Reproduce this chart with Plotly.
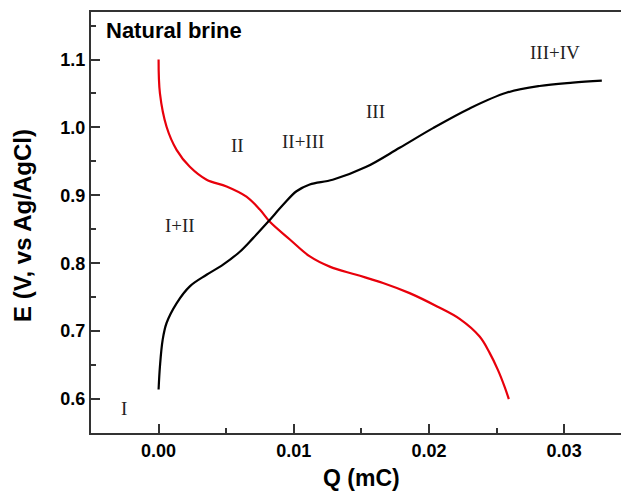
import plotly.graph_objects as go

# Red curve (decreasing)
red_q = [0.0, 0.0001, 0.00059, 0.00133, 0.00231, 0.00355, 0.00503, 0.00650, 0.00749,
         0.00823, 0.00971, 0.01119, 0.01266, 0.01463, 0.01660, 0.01857, 0.02064,
         0.02227, 0.02375, 0.02449, 0.02510, 0.02560, 0.02591]
red_e = [1.100, 1.050, 1.001, 0.967, 0.942, 0.923, 0.913, 0.898, 0.879,
         0.861, 0.835, 0.810, 0.795, 0.783, 0.771, 0.756, 0.736,
         0.718, 0.692, 0.668, 0.643, 0.618, 0.600]

# Black curve (increasing)
black_q = [0.0, 0.0001, 0.0003, 0.00059, 0.00133, 0.00231, 0.00355, 0.00477, 0.00601,
           0.00699, 0.00810, 0.00921, 0.01020, 0.01118, 0.01288, 0.01537, 0.01783,
           0.02030, 0.02301, 0.02572, 0.02818, 0.03064, 0.03279]
black_e = [0.614, 0.648, 0.687, 0.712, 0.741, 0.766, 0.783, 0.798, 0.817,
           0.837, 0.861, 0.886, 0.906, 0.916, 0.923, 0.942, 0.970,
           0.999, 1.028, 1.051, 1.061, 1.066, 1.069]

# Region labels
label_text = ["I", "I+II", "II", "II+III", "III", "III+IV"]
label_q = [-0.00256, 0.00157, 0.00586, 0.01067, 0.01604, 0.02929]
label_e = [0.586, 0.855, 0.973, 0.980, 1.023, 1.110]

x_ticks = [0.0, 0.01, 0.02, 0.03]
x_ticktext = ["0.00", "0.01", "0.02", "0.03"]
y_ticks = [0.6, 0.7, 0.8, 0.9, 1.0, 1.1]
y_ticktext = ["0.6", "0.7", "0.8", "0.9", "1.0", "1.1"]

fig = go.Figure()
fig.add_trace(go.Scatter(x=red_q, y=red_e, mode="lines",
                         line=dict(color="#e8000b", width=2.2, shape="spline", smoothing=1.0),
                         showlegend=False, hoverinfo="skip"))
fig.add_trace(go.Scatter(x=black_q, y=black_e, mode="lines",
                         line=dict(color="#000000", width=2.2, shape="spline", smoothing=1.0),
                         showlegend=False, hoverinfo="skip"))

for t, q, e in zip(label_text, label_q, label_e):
    fig.add_annotation(x=q, y=e, xref="x", yref="y", text=t, showarrow=False,
                       xanchor="center", yanchor="middle",
                       font=dict(family="Liberation Serif", size=19, color="#222222"))

fig.add_annotation(x=-0.00404, y=1.1423, xref="x", yref="y", text="<b>Natural brine</b>",
                   showarrow=False, xanchor="left", yanchor="middle",
                   font=dict(family="Liberation Sans", size=22, color="#000000"))

# Axis titles as paper annotations
fig.add_annotation(x=-0.1283, y=0.494, xref="paper", yref="paper",
                   text="<b>E (V, vs Ag/AgCl)</b>", textangle=-90, showarrow=False,
                   xanchor="center", yanchor="middle",
                   font=dict(family="Liberation Sans", size=24, color="#000000"))
fig.add_annotation(x=0.502, y=-0.1069, xref="paper", yref="paper",
                   text="<b>Q (mC)</b>", showarrow=False,
                   xanchor="center", yanchor="middle",
                   font=dict(family="Liberation Sans", size=23, color="#000000"))

axis_color = "#333333"
# page body has an 8px default margin, so the figure is sized to fit the window
fig.update_layout(
    width=621, height=489,
    margin=dict(l=83, r=0, t=4, b=64),
    paper_bgcolor="white", plot_bgcolor="white",
    font=dict(family="Liberation Sans", color="#000000"),
    xaxis=dict(
        range=[-0.005, 0.0348], showgrid=False, zeroline=False, automargin=False,
        showline=True, linecolor=axis_color, linewidth=2, mirror=True,
        ticks="inside", ticklen=9, tickwidth=2, tickcolor=axis_color,
        tickvals=x_ticks, ticktext=x_ticktext,
        tickfont=dict(family="Liberation Sans", size=18, color="#000000", weight="bold"),
        minor=dict(tick0=0, dtick=0.005, ticks="inside", ticklen=5, tickwidth=2, tickcolor=axis_color),
    ),
    yaxis=dict(
        range=[0.55, 1.17], showgrid=False, zeroline=False, automargin=False,
        showline=True, linecolor=axis_color, linewidth=2, mirror=False,
        ticks="inside", ticklen=9, tickwidth=2, tickcolor=axis_color,
        tickvals=y_ticks, ticktext=y_ticktext,
        tickfont=dict(family="Liberation Sans", size=18, color="#000000", weight="bold"),
        minor=dict(tick0=0.55, dtick=0.1, ticks="inside", ticklen=5, tickwidth=2, tickcolor=axis_color),
    ),
)

fig.write_html("out.html")
